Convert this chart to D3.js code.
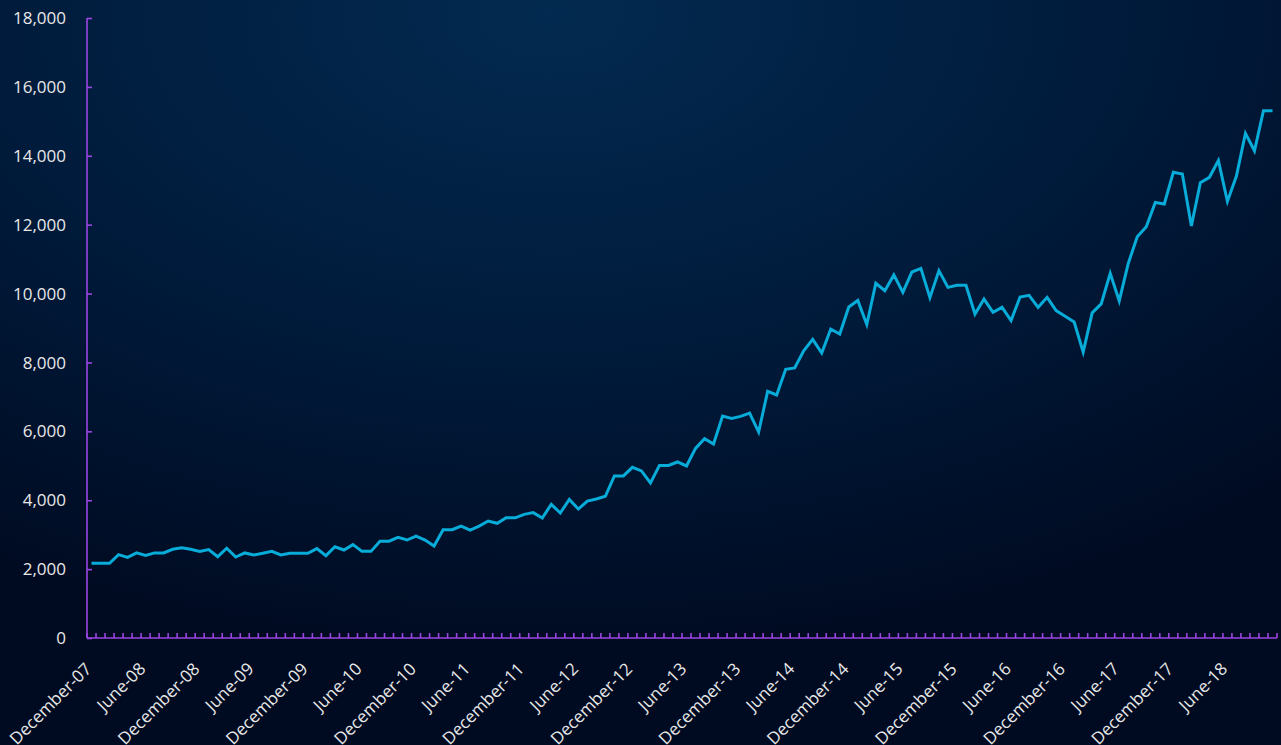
<!DOCTYPE html>
<html>
<head>
<meta charset="utf-8">
<script src="https://cdn.jsdelivr.net/npm/d3@7"></script>
<style>
  body { margin: 0; overflow: hidden; background: #000c24; }
  svg { display: block; }
</style>
</head>
<body>
<div id="chart"></div>
<script>
const width = 1281,
  height = 745,
  margin = { top: 18, right: 4, bottom: 107, left: 87 },
  axisColor = "#9b45e4",
  lineColor = "#07acd9",
  textColor = "#e8e8e8"

// monthly series, December-07 .. November-18
const startMonth = new Date(2007, 11, 1),
  endMonth = new Date(2018, 11, 1)
const months = d3.timeMonth.range(startMonth, endMonth)
const fmtMonth = d3.timeFormat("%B-%y")
const categories = months.map(fmtMonth)

const values = [
  2170, 2170, 2170, 2420, 2340, 2470, 2400, 2470, 2470, 2575, 2620, 2575,
  2515, 2565, 2360, 2605, 2350, 2470, 2410, 2460, 2515, 2410, 2460, 2460,
  2460, 2595, 2390, 2650, 2555, 2710, 2515, 2515, 2810, 2810, 2920, 2845,
  2960, 2845, 2670, 3145, 3145, 3250, 3135, 3250, 3395, 3330, 3490, 3490,
  3590, 3640, 3485, 3880, 3630, 4025, 3745, 3975, 4035, 4115, 4705, 4705,
  4955, 4850, 4500, 5010, 5010, 5110, 4995, 5505, 5785, 5630, 6445, 6375,
  6435, 6530, 5980, 7160, 7055, 7800, 7840, 8340, 8670, 8275, 8970, 8825,
  9610, 9800, 9100, 10300, 10085, 10540, 10035, 10625, 10730, 9880, 10665, 10180,
  10240, 10240, 9405, 9840, 9455, 9600, 9215, 9900, 9950, 9600, 9890, 9505,
  9340, 9175, 8300, 9440, 9700, 10585, 9785, 10875, 11650, 11940, 12645, 12600,
  13520, 13470, 11960, 13220, 13375, 13860, 12675, 13410, 14650, 14145, 15310, 15310
]

const yTicks = [0, 2000, 4000, 6000, 8000, 10000, 12000, 14000, 16000, 18000]
const labelEvery = 6

const svg = d3.select("#chart")
  .append("svg")
  .attr("width", width)
  .attr("height", height)

// background glow
const defs = svg.append("defs")
const grad = defs.append("radialGradient")
  .attr("id", "bg")
  .attr("cx", "43%").attr("cy", "2%")
  .attr("r", "85%")
grad.append("stop").attr("offset", "0%").attr("stop-color", "#032a50")
grad.append("stop").attr("offset", "55%").attr("stop-color", "#001a3a")
grad.append("stop").attr("offset", "100%").attr("stop-color", "#000b22")

svg.append("rect")
  .attr("width", width)
  .attr("height", height)
  .attr("fill", "url(#bg)")

const x = d3.scaleBand()
  .domain(categories)
  .range([margin.left, width - margin.right])
  .paddingInner(0)
  .paddingOuter(0)

const y = d3.scaleLinear()
  .domain([0, 18000])
  .range([height - margin.bottom, margin.top])

const cx = d => x(d) + x.bandwidth() / 2

// y axis
const yAxis = svg.append("g")
  .attr("transform", "translate(" + margin.left + ",0)")
  .call(d3.axisRight(y).tickValues(yTicks).tickSize(5).tickFormat(""))
yAxis.select(".domain").attr("d", "M0," + y(18000) + "V" + y(0))
yAxis.selectAll("path, line").attr("stroke", axisColor).attr("stroke-width", 1.6)

svg.append("g")
  .selectAll("text")
  .data(yTicks)
  .join("text")
  .attr("x", 66)
  .attr("y", d => y(d))
  .attr("dy", "0.36em")
  .attr("text-anchor", "end")
  .attr("fill", textColor)
  .style("font-family", "'Open Sans', sans-serif")
  .style("font-size", "17px")
  .text(d => d3.format(",")(d))

// x axis: ticks on band boundaries
const bounds = categories.map(c => x(c)).concat([x.range()[1]])
const xAxis = svg.append("g")
xAxis.append("line")
  .attr("x1", x.range()[0]).attr("x2", x.range()[1])
  .attr("y1", y(0)).attr("y2", y(0))
  .attr("stroke", axisColor).attr("stroke-width", 1.6)
xAxis.selectAll(".tick")
  .data(bounds)
  .join("line")
  .attr("class", "tick")
  .attr("x1", d => d).attr("x2", d => d)
  .attr("y1", y(0)).attr("y2", y(0) - 5)
  .attr("stroke", axisColor).attr("stroke-width", 1.6)

svg.append("g")
  .selectAll("text")
  .data(categories.filter((d, i) => i % labelEvery === 0))
  .join("text")
  .attr("transform", d => "translate(" + (cx(d) + 1) + "," + (y(0) + 32) + ") rotate(-45)")
  .attr("text-anchor", "end")
  .attr("fill", textColor)
  .style("font-family", "'Open Sans', sans-serif")
  .style("font-size", "17px")
  .text(d => d)

// the series
const line = d3.line()
  .x((d, i) => cx(categories[i]))
  .y(d => y(d))

svg.append("path")
  .datum(values)
  .attr("d", line)
  .attr("fill", "none")
  .attr("stroke", lineColor)
  .attr("stroke-width", 3)
  .attr("stroke-linejoin", "miter")
</script>
</body>
</html>
